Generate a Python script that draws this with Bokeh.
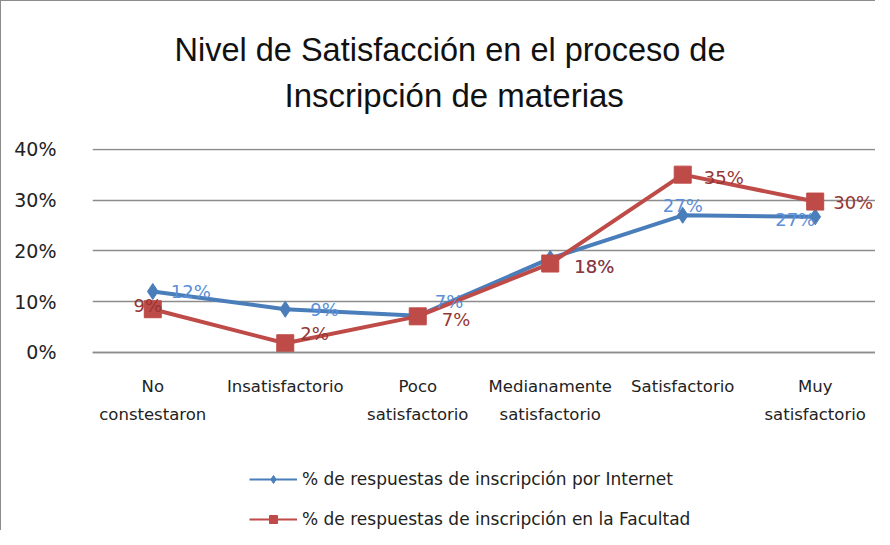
from bokeh.plotting import figure
from bokeh.models import (ColumnDataSource, FactorRange, Range1d, NumeralTickFormatter,
                          FixedTicker, Title, Legend, LegendItem)
from bokeh.core.properties import value
from bokeh.embed import file_html
from bokeh.resources import INLINE

categories = ["No\nconstestaron", "Insatisfactorio", "Poco\nsatisfactorio",
              "Medianamente\nsatisfactorio", "Satisfactorio", "Muy\nsatisfactorio"]
internet = [0.12, 0.085, 0.072, 0.185, 0.27, 0.267]
internet_labels = ["12%", "9%", "7%", "18%", "27%", "27%"]
facultad = [0.085, 0.018, 0.071, 0.175, 0.35, 0.297]
facultad_labels = ["9%", "2%", "7%", "18%", "35%", "30%"]
series_names = ["% de respuestas de inscripción por Internet",
                "% de respuestas de inscripción en la Facultad"]
y_ticks = [0, 0.1, 0.2, 0.3, 0.4]

# label placement (pixel offsets, alignment) - styling only
int_dx = [18, 25, 17, 24, 0, 0]
int_dy = [0, 0, -14, 8, -10, 3]
int_align = ["left", "left", "left", "left", "center", "right"]
fac_dx = [-5, 15, 24, 24, 21, 18]
fac_dy = [-4, -10, 3, 3, 3, 1]
fac_align = ["center", "left", "left", "left", "left", "left"]

FONT = "Liberation Sans"
WFONT = "DejaVu Sans"
BLUE = "#4a7ebb"
RED = "#be4b48"

# the plot area keeps 0..40% in its upper part; the space below 0 holds the
# category labels and the legend (the x axis is drawn at y = 0)
p = figure(x_range=FactorRange(factors=categories, range_padding=-0.045,
                               range_padding_units="absolute"),
           y_range=Range1d(-0.3507, 0.4015),
           frame_width=783, frame_height=382,
           min_border_left=91, min_border_right=0, min_border_top=147, min_border_bottom=0,
           output_backend="svg", toolbar_location=None,
           background_fill_color="white", border_fill_color="white",
           outline_line_color=None)
p.styles = {"border-top": "1px solid #8c8c8c", "border-left": "1px solid #8c8c8c"}

src_i = ColumnDataSource(dict(x=categories, y=internet, t=internet_labels,
                              dx=int_dx, dy=int_dy, al=int_align))
src_f = ColumnDataSource(dict(x=categories, y=facultad, t=facultad_labels,
                              dx=fac_dx, dy=fac_dy, al=fac_align))

# thin legend-style renderers, drawn first so the thick series cover them
gl_i = p.line("x", "y", source=src_i, line_color=BLUE, line_width=2)
gm_i = p.scatter("x", "y", source=src_i, marker="diamond", size=11,
                 fill_color=BLUE, line_color=BLUE)
gl_f = p.line("x", "y", source=src_f, line_color=RED, line_width=2)
gm_f = p.scatter("x", "y", source=src_f, marker="square", size=12,
                 fill_color=RED, line_color=RED)

p.line("x", "y", source=src_i, line_color=BLUE, line_width=4)
p.scatter("x", "y", source=src_i, marker="diamond", size=16,
          fill_color=BLUE, line_color=BLUE)
p.line("x", "y", source=src_f, line_color=RED, line_width=4)
p.scatter("x", "y", source=src_f, marker="square", size=17,
          fill_color=RED, line_color=RED)

p.text("x", "y", text="t", source=src_i, x_offset="dx", y_offset="dy",
       text_align="al", text_baseline="middle", text_color="#5b8fd6",
       text_font=value(WFONT), text_font_size="18px")
p.text("x", "y", text="t", source=src_f, x_offset="dx", y_offset="dy",
       text_align="al", text_baseline="middle", text_color="#943634",
       text_font=value(WFONT), text_font_size="18px")

# axes
p.yaxis.ticker = FixedTicker(ticks=y_ticks)
p.yaxis.formatter = NumeralTickFormatter(format="0%")
p.yaxis.axis_line_color = None
p.yaxis.major_tick_line_color = None
p.yaxis.minor_tick_line_color = None
p.yaxis.major_label_text_font = WFONT
p.yaxis.major_label_text_font_size = "19px"
p.yaxis.major_label_text_color = "#222222"
p.yaxis.major_label_standoff = 30

p.xaxis.fixed_location = 0
p.xaxis.axis_line_color = "#8c8c8c"
p.xaxis.axis_line_width = 1.5
p.xaxis.major_tick_line_color = None
p.xaxis.major_label_text_font = WFONT
p.xaxis.major_label_text_font_size = "16.5px"
p.xaxis.major_label_text_color = "#222222"
p.xaxis.major_label_text_line_height = 1.45
p.xaxis.major_label_standoff = 19

p.xgrid.grid_line_color = None
p.ygrid.grid_line_color = "#8c8c8c"
p.ygrid.grid_line_width = 1.5

# titles (spacer, second line, first line)
spacer = Title(text=" ", text_font_size="10px", standoff=20)
t2 = Title(text="Inscripción de  materias", align="left", offset=192, text_font=FONT,
           text_font_size="33px", text_font_style="normal", text_color="#111111",
           standoff=4)
t1 = Title(text="Nivel de Satisfacción en el proceso  de", align="left", offset=82,
           text_font=FONT, text_font_size="32.5px", text_font_style="normal",
           text_color="#111111", standoff=10)
p.add_layout(spacer, "above")
p.add_layout(t2, "above")
p.add_layout(t1, "above")

legend = Legend(items=[LegendItem(label=series_names[0], renderers=[gl_i, gm_i]),
                       LegendItem(label=series_names[1], renderers=[gl_f, gm_f])],
                orientation="vertical", location=(157, 1),
                label_text_font=WFONT, label_text_font_size="17px",
                label_text_color="#222222", glyph_width=48, glyph_height=20,
                label_height=20, spacing=20, padding=0, margin=0,
                border_line_color=None, background_fill_alpha=0)
p.add_layout(legend, "center")

open("out.html", "w").write(file_html(p, INLINE))
